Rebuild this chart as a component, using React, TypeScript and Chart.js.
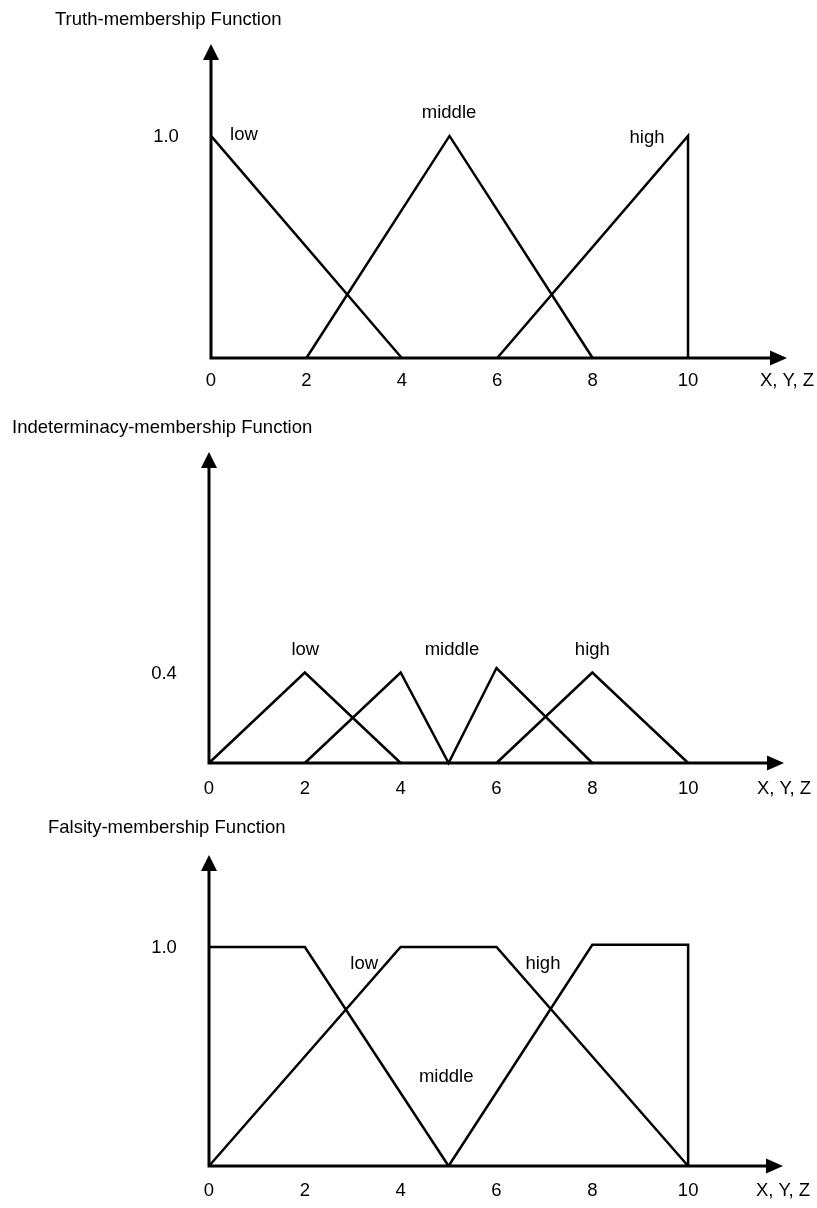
import React, { useEffect, useRef } from 'react';
import { Chart, registerables } from 'chart.js';

Chart.register(...registerables);

// ---------- shared ----------
const xTicks = [0, 2, 4, 6, 8, 10];
const axisName = 'X, Y, Z';
const setNames = ['low', 'middle', 'high'];

// ---------- Truth-membership ----------
const truthTitle = 'Truth-membership Function';
const truthLowX = [0, 4];
const truthLowY = [1, 0];
const truthMidX = [2, 5, 8];
const truthMidY = [0, 1, 0];
const truthHighX = [6, 10, 10];
const truthHighY = [0, 1, 0];
const truthYTick = 1.0;
const truthYTickLabel = '1.0';
const truthNameX = [0.69, 4.99, 9.14];
const truthNameY = [0.98, 1.08, 0.97];

// ---------- Indeterminacy-membership ----------
const indTitle = 'Indeterminacy-membership Function';
const indLowX = [0, 2, 4];
const indLowY = [0, 0.4, 0];
const indMidX = [2, 4, 5, 6, 8];
const indMidY = [0, 0.4, 0, 0.42, 0];
const indHighX = [6, 8, 10];
const indHighY = [0, 0.4, 0];
const indYTick = 0.4;
const indYTickLabel = '0.4';
const indNameX = [2.01, 5.07, 8.0];
const indNameY = [0.477, 0.477, 0.477];

// ---------- Falsity-membership ----------
const falTitle = 'Falsity-membership Function';
const falLowX = [0, 2, 5];
const falLowY = [1, 1, 0];
const falMidX = [0, 4, 6, 10];
const falMidY = [0, 1, 1, 0];
const falHighX = [5, 8, 10, 10];
const falHighY = [0, 1.01, 1.01, 0];
const falYTick = 1.0;
const falYTickLabel = '1.0';
const falNameX = [3.24, 4.95, 6.97];
const falNameY = [0.9, 0.384, 0.9];

const FONT = '18.5px "Liberation Sans", Arial, Helvetica, sans-serif';
const W = 817;

type Series = { x: number[]; y: number[] };
type Panel = {
  title: string;
  series: Series[];
  yTick: number;
  yTickLabel: string;
  nameX: number[];
  nameY: number[];
  xMax: number;
  yMax: number;
  top: number;
  height: number;
  x0: number;
  tipX: number;
  tipY: number;
  axisY: number;
  titleX: number;
  titleY: number;
  tickGap: number;
};

const panels: Panel[] = [
  {
    title: truthTitle,
    series: [
      { x: truthLowX, y: truthLowY },
      { x: truthMidX, y: truthMidY },
      { x: truthHighX, y: truthHighY },
    ],
    yTick: truthYTick,
    yTickLabel: truthYTickLabel,
    nameX: truthNameX,
    nameY: truthNameY,
    xMax: 12.075,
    yMax: 1.414,
    top: 0,
    height: 405,
    x0: 211,
    tipX: 787,
    tipY: 44,
    axisY: 358,
    titleX: 55,
    titleY: 25,
    tickGap: 28,
  },
  {
    title: indTitle,
    series: [
      { x: indLowX, y: indLowY },
      { x: indMidX, y: indMidY },
      { x: indHighX, y: indHighY },
    ],
    yTick: indYTick,
    yTickLabel: indYTickLabel,
    nameX: indNameX,
    nameY: indNameY,
    xMax: 12.0,
    yMax: 1.375,
    top: 405,
    height: 400,
    x0: 209,
    tipX: 784,
    tipY: 452,
    axisY: 763,
    titleX: 12,
    titleY: 28,
    tickGap: 31,
  },
  {
    title: falTitle,
    series: [
      { x: falLowX, y: falLowY },
      { x: falMidX, y: falMidY },
      { x: falHighX, y: falHighY },
    ],
    yTick: falYTick,
    yTickLabel: falYTickLabel,
    nameX: falNameX,
    nameY: falNameY,
    xMax: 11.98,
    yMax: 1.42,
    top: 805,
    height: 403,
    x0: 209,
    tipX: 783,
    tipY: 855,
    axisY: 1166,
    titleX: 48,
    titleY: 28,
    tickGap: 30,
  },
];

function makeFramePlugin(p: Panel) {
  return {
    id: 'frame',
    afterDatasetsDraw(chart: any) {
      const { ctx, chartArea } = chart;
      const xs = chart.scales.x;
      const ys = chart.scales.y;
      const x0 = xs.getPixelForValue(0);
      const y0 = ys.getPixelForValue(0);
      const xTip = chartArea.right;
      const yTip = chartArea.top;
      ctx.save();
      ctx.strokeStyle = '#000';
      ctx.fillStyle = '#000';
      ctx.lineWidth = 3;
      ctx.lineCap = 'butt';
      ctx.beginPath();
      ctx.moveTo(x0 - 1.5, y0);
      ctx.lineTo(xTip - 12, y0);
      ctx.moveTo(x0, y0 + 1.5);
      ctx.lineTo(x0, yTip + 12);
      ctx.stroke();
      // arrowheads
      ctx.beginPath();
      ctx.moveTo(xTip, y0);
      ctx.lineTo(xTip - 17, y0 - 7.5);
      ctx.lineTo(xTip - 17, y0 + 7.5);
      ctx.closePath();
      ctx.fill();
      ctx.beginPath();
      ctx.moveTo(x0, yTip);
      ctx.lineTo(x0 - 8, yTip + 16);
      ctx.lineTo(x0 + 8, yTip + 16);
      ctx.closePath();
      ctx.fill();

      ctx.font = FONT;
      ctx.textBaseline = 'alphabetic';
      ctx.textAlign = 'left';
      ctx.fillText(p.title, p.titleX, p.titleY);
      ctx.textAlign = 'center';
      xTicks.forEach((v) => {
        ctx.fillText(String(v), xs.getPixelForValue(v), y0 + p.tickGap);
      });
      ctx.fillText(axisName, xTip, y0 + p.tickGap);
      ctx.fillText(p.yTickLabel, x0 - 45, ys.getPixelForValue(p.yTick) + 6);
      setNames.forEach((n, i) => {
        ctx.fillText(n, xs.getPixelForValue(p.nameX[i]), ys.getPixelForValue(p.nameY[i]));
      });
      ctx.restore();
    },
  };
}

function PanelChart({ p }: { p: Panel }) {
  const ref = useRef<HTMLCanvasElement | null>(null);
  useEffect(() => {
    if (!ref.current) return;
    const chart = new Chart(ref.current, {
      type: 'scatter',
      data: {
        datasets: p.series.map((s, i) => ({
          label: setNames[i],
          data: s.x.map((xv, k) => ({ x: xv, y: s.y[k] })),
          showLine: true,
          borderColor: '#000',
          backgroundColor: '#000',
          borderWidth: 2.5,
          pointRadius: 0,
          pointHoverRadius: 0,
          tension: 0,
          borderJoinStyle: 'miter' as const,
          clip: false as any,
        })),
      },
      options: {
        responsive: false,
        animation: false,
        devicePixelRatio: 1,
        events: [],
        layout: {
          padding: {
            left: p.x0,
            right: W - p.tipX,
            top: p.tipY - p.top,
            bottom: p.top + p.height - p.axisY,
          },
        },
        plugins: {
          legend: { display: false },
          tooltip: { enabled: false },
          title: { display: false },
        },
        scales: {
          x: { type: 'linear', min: 0, max: p.xMax, display: false },
          y: { type: 'linear', min: 0, max: p.yMax, display: false },
        },
      },
      plugins: [makeFramePlugin(p)],
    });
    return () => chart.destroy();
  }, [p]);
  return (
    <canvas
      ref={ref}
      width={W}
      height={p.height}
      style={{ position: 'absolute', left: 0, top: p.top, width: W, height: p.height, display: 'block' }}
    />
  );
}

export default function App() {
  return (
    <div style={{ position: 'absolute', left: 0, top: 0, width: W, height: 1208, background: '#fff', overflow: 'hidden' }}>
      {panels.map((p, i) => (
        <PanelChart key={i} p={p} />
      ))}
    </div>
  );
}
